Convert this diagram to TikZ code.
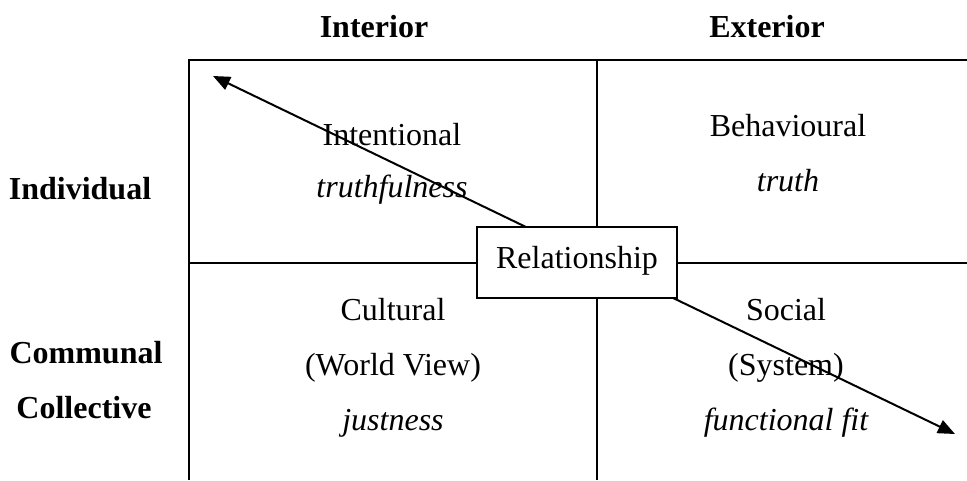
\documentclass[tikz,border=0pt]{standalone}
\usepackage{fontspec}
\setmainfont{Liberation Serif}
\usetikzlibrary{arrows.meta}
\begin{document}
\begin{tikzpicture}[x=1pt,y=-1pt,
  grid/.style={line width=2pt},
  head/.style={font=\fontsize{32}{38}\selectfont\bfseries, anchor=base},
  cell/.style={font=\fontsize{32}{38}\selectfont, anchor=base},
  relbox/.style={draw, line width=2pt, fill=white, inner sep=0pt,
    text width=200pt, align=center, text height=41pt, text depth=30pt,
    font=\fontsize{32}{38}\selectfont},
  dirarrow/.style={line width=2pt, {Triangle[length=17pt,width=14pt]}-{Triangle[length=17pt,width=14pt]}}]
  \useasboundingbox (0,0) rectangle (967,480);

  % quadrant grid, open on the right and at the bottom
  \coordinate (tl) at (189,60);
  \coordinate (tr) at (967,60);
  \coordinate (bl) at (189,480);
  \coordinate (tm) at (597,60);
  \coordinate (bm) at (597,480);
  \coordinate (ml) at (189,263);
  \coordinate (mr) at (967,263);
  \draw[grid] (bl) -- (tl) -- (tr);
  \draw[grid] (tm) -- (bm);
  \draw[grid] (ml) -- (mr);

  % column and row headings
  \node[head] (interior) at (374,37) {Interior};
  \node[head] (exterior) at (767,37) {Exterior};
  \node[head] (individual) at (80,199) {Individual};
  \node[head] (communal) at (86,363) {Communal};
  \node[head] (collective) at (84,418) {Collective};

  % quadrant contents
  \node[cell] (q1a) at (392,145) {Intentional};
  \node[cell] (q1b) at (392,197) {\itshape truthfulness};
  \node[cell] (q2a) at (788,136) {Behavioural};
  \node[cell] (q2b) at (788,191) {\itshape truth};
  \node[cell] (q3a) at (393,320) {Cultural};
  \node[cell] (q3b) at (393,375) {(World View)};
  \node[cell] (q3c) at (393,430) {\itshape justness};
  \node[cell] (q4a) at (786,320) {Social};
  \node[cell] (q4b) at (786,375) {(System)};
  \node[cell] (q4c) at (786,430) {\itshape functional fit};

  % diagonal running through the centre box
  \coordinate (upleft) at (213,76);
  \coordinate (downright) at (955,434);
  \draw[dirarrow] (upleft) -- (downright);

  % centre box
  \node[relbox] (rel) at (577,262.5) {Relationship};
\end{tikzpicture}
\end{document}
